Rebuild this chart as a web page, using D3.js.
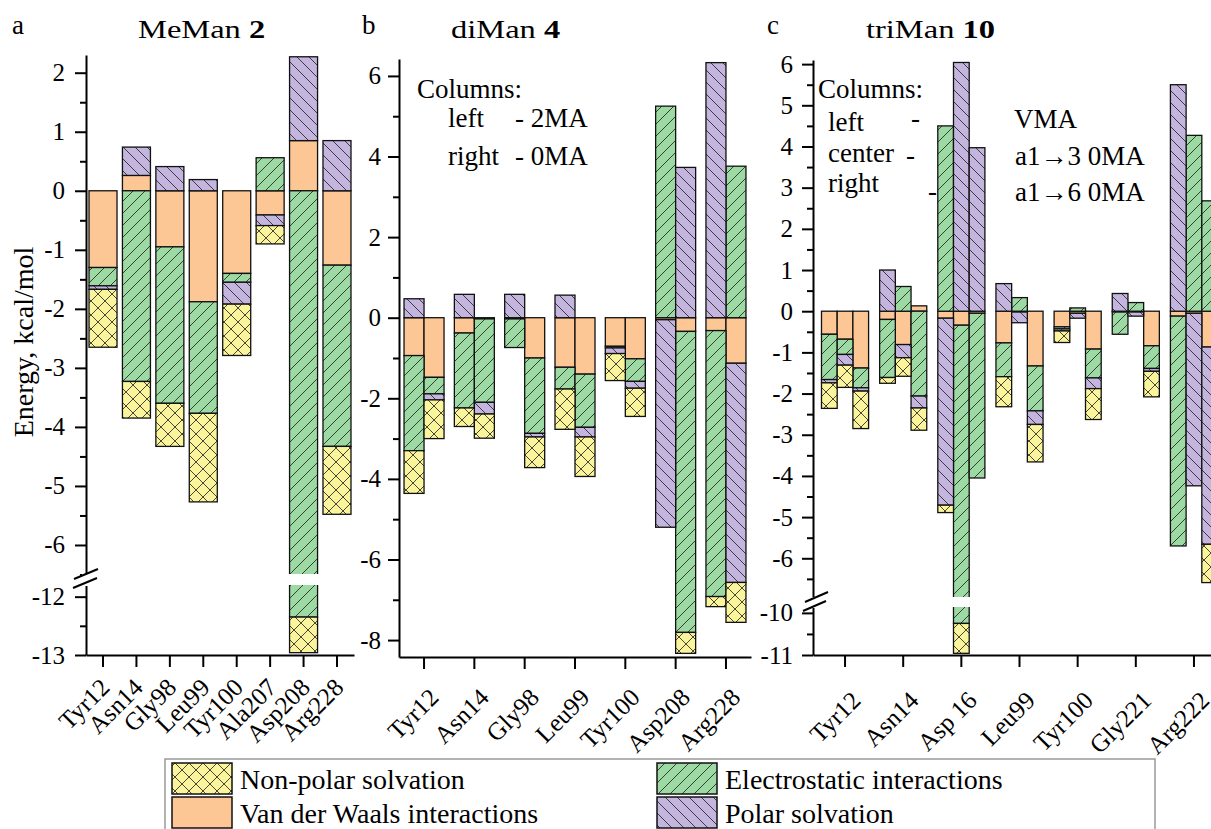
<!DOCTYPE html>
<html>
<head>
<meta charset="utf-8">
<script src="https://cdn.jsdelivr.net/npm/d3@7"></script>
<style>
  body { margin: 0; background: #fff; }
  text { font-family: "Liberation Serif", "Times New Roman", serif; fill: #000; }
</style>
</head>
<body>
<svg id="chart" width="1211" height="829" font-family="Liberation Serif"></svg>
<script>

// series order = stacking order (positive up, negative down, like Origin)
const keys = ["vdw", "elec", "polar", "np"]
const legendNames = ["Non-polar solvation", "Van der Waals interactions", "Electrostatic interactions", "Polar solvation"]

// ---- panel a : MeMan 2
const residuesA = ["Tyr12", "Asn14", "Gly98", "Leu99", "Tyr100", "Ala207", "Asp208", "Arg228"]
const vdwA   = [-1.30, 0.26, -0.95, -1.88, -1.40, -0.41, 0.85, -1.26]
const elecA  = [-0.31, -3.23, -2.65, -1.89, -0.15, 0.56, -12.35, -3.07]
const polarA = [-0.06, 0.48, 0.41, 0.19, -0.37, -0.18, 1.42, 0.85]
const npA    = [-0.98, -0.62, -0.73, -1.50, -0.87, -0.31, -0.61, -1.15]

// ---- panel b : diMan 4  (left 2MA, right 0MA)
const residuesB = ["Tyr12", "Asn14", "Gly98", "Leu99", "Tyr100", "Asp208", "Arg228"]
const columnsB = ["2MA", "0MA"]
const vdwB   = [[-0.94, -1.48], [-0.38, -0.03], [-0.03, -1.00], [-1.23, -1.40], [-0.71, -1.02], [-0.05, -0.34], [-0.32, -1.13]]
const elecB  = [[-2.36, -0.41], [-1.86, -2.07], [-0.71, -1.87], [-0.54, -1.32], [-0.04, -0.56], [5.25, -7.47], [-6.60, 3.76]]
const polarB = [[0.47, -0.15], [0.58, -0.29], [0.58, -0.09], [0.56, -0.24], [-0.14, -0.17], [-5.15, 3.73], [6.33, -5.44]]
const npB    = [[-1.06, -0.96], [-0.46, -0.60], [0, -0.76], [-1.00, -0.98], [-0.67, -0.70], [0, -0.52], [-0.25, -0.99]]

// ---- panel c : triMan 10  (left VMA, center a1->3 0MA, right a1->6 0MA)
const residuesC = ["Tyr12", "Asn14", "Asp 16", "Leu99", "Tyr100", "Gly221", "Arg222"]
const columnsC = ["VMA", "a13", "a16"]
const vdwC   = [[-0.56, -0.68, -1.38], [-0.20, -0.81, 0.13], [-0.17, -0.34, -0.05], [-0.77, -0.02, -1.33], [-0.38, -0.05, -0.92], [-0.02, -0.02, -0.84], [-0.12, -0.05, -0.87]]
const elecC  = [[-1.10, -0.37, -0.48], [-1.41, 0.60, -2.06], [4.50, -9.91, -4.00], [-0.82, 0.33, -1.09], [-0.05, 0.08, -0.70], [-0.54, 0.21, -0.55], [-5.58, 4.27, 2.68]]
const polarC = [[-0.08, -0.26, -0.08], [1.00, -0.32, -0.29], [-4.54, 6.04, 3.97], [0.67, -0.26, -0.33], [-0.05, -0.12, -0.26], [0.43, -0.10, -0.07], [5.50, -4.19, -4.79]]
const npC    = [[-0.62, -0.54, -0.91], [-0.14, -0.45, -0.54], [-0.18, -0.71, 0], [-0.73, 0, -0.91], [-0.28, 0, -0.75], [0, 0, -0.62], [0, 0, -0.93]]


const fills = { vdw: "#fcc795", elec: "#9dd9a3", polar: "#c4b5de", np: "#faf59c" }

const svg = d3.select("#chart")
const defs = svg.append("defs")

function hatch(id, color, size, d) {
    const p = defs.append("pattern")
        .attr("id", id)
        .attr("patternUnits", "userSpaceOnUse")
        .attr("width", size)
        .attr("height", size)
    p.append("rect").attr("width", size).attr("height", size).attr("fill", color)
    if (d) p.append("path").attr("d", d).attr("stroke", "#1a1a1a").attr("stroke-width", 0.8).attr("fill", "none")
}
hatch("p-vdw", fills.vdw, 10, null)
hatch("p-elec", fills.elec, 12, "M0,12L12,0M-3,3L3,-3M9,15L15,9")
hatch("p-polar", fills.polar, 12, "M0,0L12,12M-3,9L3,15M9,-3L15,3")
hatch("p-np", fills.np, 14, "M0,0L14,14M14,0L0,14")


function drawPanel(o) {
    const g = svg.append("g")

    // rows: one per bar
    const rows = []
    o.residues.forEach((r, i) => {
        o.columns.forEach((c, j) => {
            const row = { res: r, col: c }
            keys.forEach(k => {
                const v = o.series[k][i]
                row[k] = Array.isArray(v) ? v[j] : v
            })
            rows.push(row)
        })
    })

    const stacked = d3.stack().keys(keys).offset(d3.stackOffsetDiverging)(rows)

    const x = d3.scaleBand()
        .domain(o.residues)
        .range([o.x0, o.x1])
        .paddingInner(o.pIn)
        .paddingOuter(o.pOut)

    const xIn = d3.scaleBand()
        .domain(o.columns)
        .range([0, x.bandwidth()])

    const y = o.y

    g.append("g")
        .selectAll("g")
        .data(stacked)
        .join("g")
        .attr("fill", d => "url(#p-" + d.key + ")")
        .selectAll("rect")
        .data(d => d.filter(p => Math.abs(p[1] - p[0]) > 0.001))
        .join("rect")
        .attr("x", d => x(d.data.res) + xIn(d.data.col))
        .attr("width", xIn.bandwidth())
        .attr("y", d => y(Math.max(d[0], d[1])))
        .attr("height", d => y(Math.min(d[0], d[1])) - y(Math.max(d[0], d[1])))
        .attr("stroke", "#111")
        .attr("stroke-width", 1.3)

    // white gap through a bar that crosses the axis break
    if (o.barGap) {
        const bx = x(o.barGap.res) + xIn(o.barGap.col)
        g.append("rect")
            .attr("x", bx - 2).attr("width", xIn.bandwidth() + 4)
            .attr("y", o.barGap.y0).attr("height", o.barGap.y1 - o.barGap.y0)
            .attr("fill", "#fff")
    }

    // y axis
    const yAxis = g.append("g")
        .attr("transform", `translate(${o.x0},0)`)
        .call(d3.axisLeft(y).tickValues(o.major).tickSize(11).tickSizeOuter(0)
            .tickPadding(o.tickPad).tickFormat(d => String(d)))
    yAxis.attr("font-family", "Liberation Serif")
    yAxis.select(".domain").attr("stroke-width", 2)
    yAxis.selectAll(".tick line").attr("stroke-width", 2)
    yAxis.selectAll(".tick text").style("font-size", "25px")

    const yMinor = g.append("g")
        .attr("transform", `translate(${o.x0},0)`)
        .call(d3.axisLeft(y).tickValues(o.minor).tickSize(6).tickFormat(""))
    yMinor.select(".domain").remove()
    yMinor.selectAll(".tick line").attr("stroke-width", 2)

    // x axis
    const yBottom = y.range()[0]
    const xAxis = g.append("g")
        .attr("transform", `translate(0,${yBottom})`)
        .call(d3.axisBottom(x).tickSize(12).tickSizeOuter(0).tickFormat(""))
    xAxis.select(".domain").attr("stroke-width", 2)
    xAxis.selectAll(".tick line").attr("stroke-width", 2)

    g.append("g")
        .selectAll("text")
        .data(o.residues)
        .join("text")
        .attr("transform", d => `translate(${x(d) + x.bandwidth() / 2 + o.labDx},${o.labY}) rotate(-45)`)
        .attr("text-anchor", "end")
        .style("font-size", "25px")
        .text(d => d)

    // axis break
    if (o.brk) {
        g.append("rect")
            .attr("x", o.x0 - 4).attr("width", 8)
            .attr("y", o.brk.y0).attr("height", o.brk.y1 - o.brk.y0)
            .attr("fill", "#fff")
        o.brk.lines.forEach(l => {
            g.append("line")
                .attr("x1", l[0]).attr("y1", l[1]).attr("x2", l[2]).attr("y2", l[3])
                .attr("stroke", "#000").attr("stroke-width", 2)
        })
    }

    // panel letter + title
    g.append("text").attr("x", o.letterX).attr("y", 34).style("font-size", "27px").text(o.letter)
    const t = g.append("text")
        .attr("transform", `translate(${o.titleX},38) scale(1.3,1)`)
        .style("font-size", "25px")
    t.append("tspan").text(o.title + " ")
    t.append("tspan").attr("font-weight", "bold").text(o.titleNum)

    return g
}

function range(a, b, s) {
    const out = []
    for (let v = a; v >= b - 1e-9; v -= s) out.push(+v.toFixed(2))
    return out
}

// panel a
drawPanel({
    residues: residuesA, columns: ["x"],
    series: { vdw: vdwA, elec: elecA, polar: polarA, np: npA },
    x0: 86, x1: 354, pIn: 0.162, pOut: 0.09,
    y: d3.scaleLinear().domain([-13, -11.8, -6.5, 2.3]).range([655, 585, 574.5, 55]),
    major: [2, 1, 0, -1, -2, -3, -4, -5, -6, -12, -13],
    minor: range(1.5, -6.5, 1).concat([-12.5]),
    tickPad: 10, labDx: 8, labY: 689,
    barGap: { res: "Asp208", col: "x", y0: 574, y1: 585 },
    brk: { y0: 574, y1: 586, lines: [[74, 579, 98, 569], [73, 588, 97, 578]] },
    letter: "a", letterX: 12, title: "MeMan", titleNum: "2", titleX: 138
})

// panel b
drawPanel({
    residues: residuesB, columns: columnsB,
    series: { vdw: vdwB, elec: elecB, polar: polarB, np: npB },
    x0: 399, x1: 751, pIn: 0.205, pOut: 0.1,
    y: d3.scaleLinear().domain([-8.42, 6.42]).range([657, 59]),
    major: [6, 4, 2, 0, -2, -4, -6, -8],
    minor: [5, 3, 1, -1, -3, -5, -7],
    tickPad: 7, labDx: 16, labY: 699,
    letter: "b", letterX: 362, title: "diMan", titleNum: "4", titleX: 451
})

// panel c
drawPanel({
    residues: residuesC, columns: columnsC,
    series: { vdw: vdwC, elec: elecC, polar: polarC, np: npC },
    x0: 813, x1: 1226, pIn: 0.19, pOut: 0.146,
    y: d3.scaleLinear().domain([-11, -9.86, -6.94, 6.1]).range([655, 607, 597, 60]),
    major: [6, 5, 4, 3, 2, 1, 0, -1, -2, -3, -4, -5, -6, -10, -11],
    minor: range(5.5, -6.5, 1).concat([-10.5]),
    tickPad: 9, labDx: 17, labY: 702,
    barGap: { res: "Asp 16", col: "a13", y0: 597, y1: 607 },
    brk: { y0: 597, y1: 608, lines: [[805, 602, 828, 592], [803, 611, 826, 601]] },
    letter: "c", letterX: 767, title: "triMan", titleNum: "10", titleX: 866
})

// y axis title
svg.append("text")
    .attr("transform", "translate(33,342) rotate(-90)")
    .attr("text-anchor", "middle")
    .style("font-size", "28px")
    .text("Energy, kcal/mol")

// column notes
const notes = svg.append("g").style("font-size", "27px")
const noteB = [["Columns:", 417, 98], ["left", 448, 127], ["- 2MA", 515, 127], ["right", 448, 165], ["- 0MA", 515, 165]]
const noteC = [["Columns:", 818, 98], ["left", 828, 131], ["center", 828, 162], ["right", 828, 192],
    ["-", 911, 127], ["-", 906, 164], ["-", 928, 200],
    ["VMA", 1014, 128], ["a1\u21923 0MA", 1015, 165], ["a1\u21926 0MA", 1015, 201]]
notes.selectAll("text")
    .data(noteB.concat(noteC))
    .join("text")
    .attr("x", d => d[1])
    .attr("y", d => d[2])
    .text(d => d[0])

// legend
const legend = svg.append("g")
legend.append("rect")
    .attr("x", 165).attr("y", 759).attr("width", 990).attr("height", 90)
    .attr("fill", "none").attr("stroke", "#999").attr("stroke-width", 1.5)

const legendItems = [
    { key: "np", name: legendNames[0], x: 172, y: 763 },
    { key: "vdw", name: legendNames[1], x: 172, y: 797 },
    { key: "elec", name: legendNames[2], x: 657, y: 763 },
    { key: "polar", name: legendNames[3], x: 657, y: 797 }
]
legend.selectAll("rect.sw")
    .data(legendItems)
    .join("rect")
    .attr("class", "sw")
    .attr("x", d => d.x).attr("y", d => d.y)
    .attr("width", 60).attr("height", 31)
    .attr("fill", d => "url(#p-" + d.key + ")")
    .attr("stroke", "#111").attr("stroke-width", 1.5)
legend.selectAll("text")
    .data(legendItems)
    .join("text")
    .attr("x", d => d.x + 68)
    .attr("y", d => d.y + 26)
    .style("font-size", "28px")
    .text(d => d.name)

</script>
</body>
</html>
